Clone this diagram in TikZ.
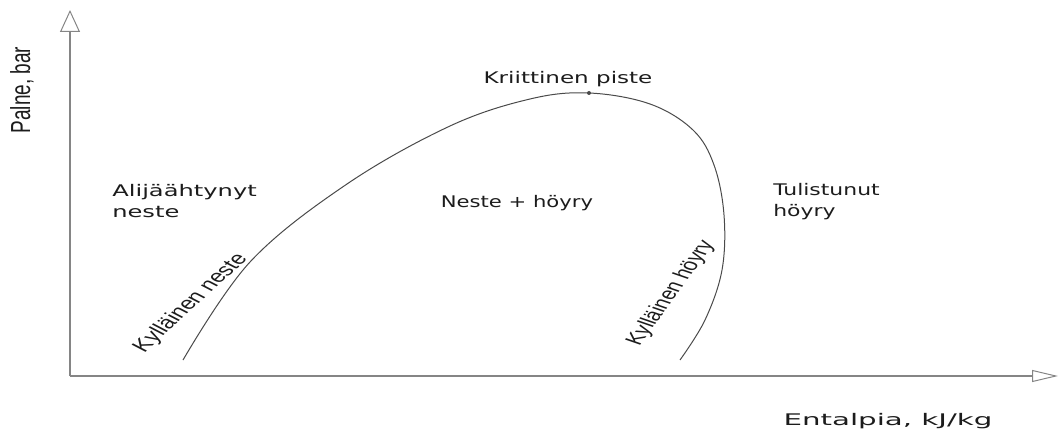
\documentclass[tikz,border=0pt]{standalone}
\usepackage{fontspec}
\setmainfont{DejaVu Sans}
\newfontfamily\narrowfont{Liberation Sans}
\usetikzlibrary{arrows.meta}
\definecolor{axisgray}{HTML}{858585}
\definecolor{curvegray}{HTML}{4A4A4A}
\definecolor{txt}{HTML}{1C1C1C}
\begin{document}
\begin{tikzpicture}[x=1pt,y=-1pt,
  axis/.style={draw=axisgray, line width=1.6pt},
  curve/.style={draw=curvegray, line width=1pt},
  lbl/.style={text=txt, font=\fontsize{16}{21}\selectfont, inner sep=0pt},
  rlbl/.style={text=txt, font=\narrowfont\fontsize{17.5}{19}\selectfont, inner sep=0pt}]
\useasboundingbox (0,0) rectangle (1059,441);
\coordinate (O) at (70,376);
\coordinate (ytop) at (70,10);
\coordinate (xend) at (1058,376);
\draw[axis, -{Triangle[open, length=22pt, width=20pt, line width=1pt]}] (O) -- (ytop);
\draw[axis, -{Triangle[open, length=26pt, width=12pt, line width=1pt]}] (O) -- (xend);
\draw[curve] plot[smooth, tension=0.6] coordinates {(183,360) (250,262) (347,184) (450,126) (530,99) (589,93) (650,104) (693,130) (714,165) (724,215) (722,270) (705,320) (680,360)};
\node[circle, fill=curvegray, inner sep=0pt, minimum size=4pt] (cp) at (589,93) {};
\node[lbl, xscale=1.44] (kp) at (568,79) {Kriittinen piste};
\node[lbl, xscale=1.51, align=left, anchor=north west] (al) at (112,184) {Alijäähtynyt\\neste};
\node[lbl, xscale=1.32] (nh) at (517,203) {Neste + höyry};
\node[lbl, xscale=1.37, align=left, anchor=north west] (tu) at (773,183) {Tulistunut\\höyry};
\node[rlbl, xscale=1.45, rotate=53] (kn) at (191,303) {Kylläinen neste};
\node[rlbl, font=\narrowfont\fontsize{17}{19}\selectfont, xscale=1.45, rotate=63.4] (kh) at (671,293) {Kylläinen höyry};
\node[rlbl, font=\narrowfont\fontsize{19}{21}\selectfont, xscale=1.45, rotate=90] (pa) at (22,90) {Palne, bar};
\node[lbl, xscale=1.83] (en) at (888,421) {Entalpia, kJ/kg};
\end{tikzpicture}
\end{document}
